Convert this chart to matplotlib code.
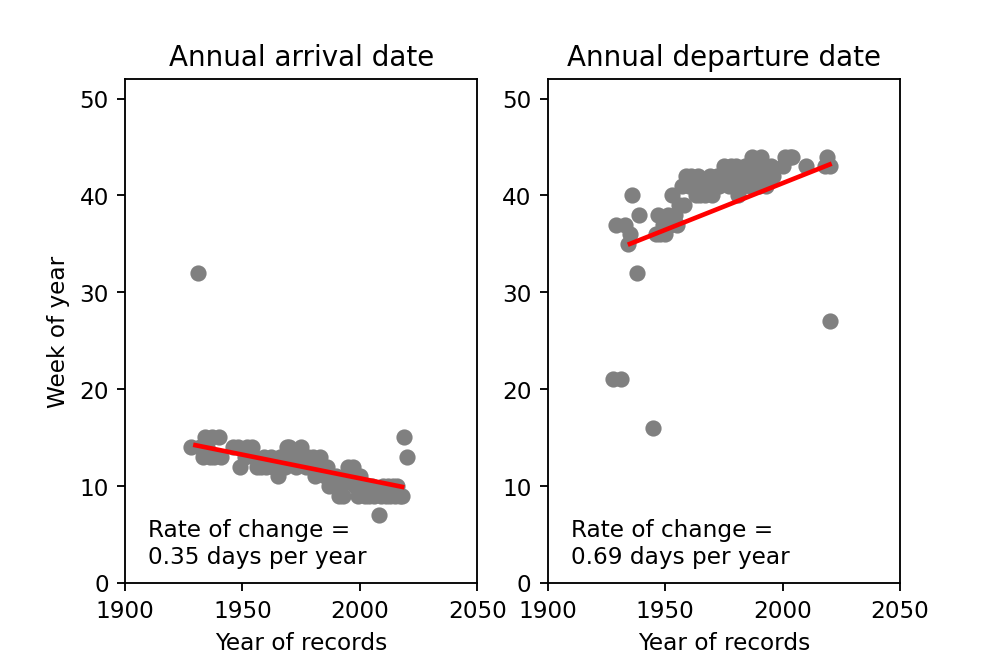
import numpy as np
import matplotlib
matplotlib.use("Agg")
import matplotlib.pyplot as plt

# arrival week per year
arr_years = [1928, 1931, 1932, 1933, 1934, 1935, 1936, 1937, 1938, 1940, 1941,
             1946, 1948, 1949, 1951, 1952, 1954, 1955, 1956, 1958, 1959, 1960,
             1962, 1963, 1965, 1966, 1968, 1969, 1970, 1972, 1973, 1975, 1976,
             1977, 1978, 1979, 1980, 1981, 1982, 1983, 1985, 1986, 1987, 1988,
             1989, 1990, 1991, 1992, 1993, 1995, 1996, 1997, 1998, 1999, 2000,
             2001, 2002, 2003, 2004, 2005, 2006, 2008, 2009, 2010, 2011, 2012,
             2013, 2014, 2015, 2016, 2017, 2018, 2019, 2020]
arr_weeks = [14, 32, 14, 13, 15, 14, 13, 15, 13, 15, 13,
             14, 14, 12, 13, 14, 14, 13, 12, 12, 13, 12,
             13, 12, 11, 13, 12, 14, 14, 13, 12, 14, 13,
             12, 13, 12, 13, 11, 12, 13, 11, 12, 10, 11,
             10, 11, 9, 10, 9, 12, 11, 12, 10, 9, 11,
             10, 9, 10, 9, 10, 9, 7, 9, 10, 9, 10,
             9, 10, 9, 10, 9, 9, 15, 13]

# departure week per year
dep_years = [1928, 1929, 1931, 1933, 1934, 1935, 1936, 1938, 1939, 1945,
             1946, 1947, 1948, 1949, 1950, 1951, 1952, 1953, 1954, 1955,
             1956, 1957, 1958, 1959, 1960, 1961, 1962, 1963, 1964, 1965,
             1966, 1967, 1968, 1969, 1970, 1971, 1972, 1973, 1974, 1975,
             1976, 1977, 1978, 1979, 1980, 1981, 1982, 1983, 1984, 1985,
             1986, 1987, 1988, 1989, 1990, 1991, 1992, 1993, 1995, 1996,
             2000, 2001, 2003, 2004, 2010, 2018, 2019, 2020, 2020]
dep_weeks = [21, 37, 21, 37, 35, 36, 40, 32, 38, 16,
             36, 38, 36, 37, 36, 38, 37, 40, 38, 37,
             39, 41, 39, 42, 41, 42, 41, 40, 42, 40,
             41, 40, 41, 42, 40, 41, 42, 41, 42, 43,
             42, 41, 43, 42, 43, 40, 42, 41, 43, 42,
             41, 44, 42, 43, 41, 44, 42, 41, 43, 42,
             43, 44, 44, 44, 43, 43, 44, 43, 27]

# trend lines (start / end of the fitted line)
arr_line_years = [1930, 2018]
arr_line_weeks = [14.2, 9.9]
dep_line_years = [1935, 2020]
dep_line_weeks = [35.0, 43.2]

arr_rate = "0.35"
dep_rate = "0.69"

fig, (ax1, ax2) = plt.subplots(1, 2, figsize=(6, 4), dpi=166.67)
fig.subplots_adjust(bottom=0.125)

panels = [
    (ax1, arr_years, arr_weeks, arr_line_years, arr_line_weeks, arr_rate, "Annual arrival date"),
    (ax2, dep_years, dep_weeks, dep_line_years, dep_line_weeks, dep_rate, "Annual departure date"),
]

for ax, years, weeks, line_x, line_y, rate, title in panels:
    ax.scatter(years, weeks, color="grey")
    ax.plot(line_x, line_y, color="red", lw=2)
    ax.set_xlim(1900, 2050)
    ax.set_ylim(0, 52)
    ax.set_xticks([1900, 1950, 2000, 2050])
    ax.set_yticks([0, 10, 20, 30, 40, 50])
    ax.set_xlabel("Year of records")
    ax.set_title(title)
    ax.text(1910, 2, "Rate of change =\n" + rate + " days per year")

ax1.set_ylabel("Week of year")

plt.savefig("out.png", dpi=166.67)
